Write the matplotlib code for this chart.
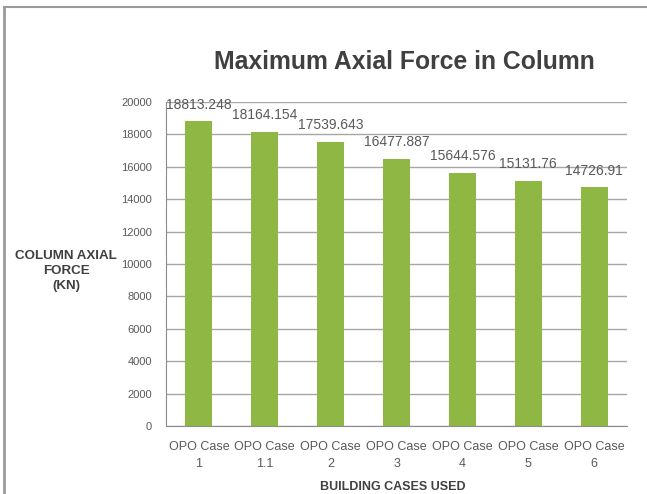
import matplotlib
matplotlib.use("Agg")
import matplotlib.pyplot as plt
from matplotlib.lines import Line2D

# values
cases = ["OPO Case\n1", "OPO Case\n1.1", "OPO Case\n2", "OPO Case\n3",
         "OPO Case\n4", "OPO Case\n5", "OPO Case\n6"]
force = [18813.248, 18164.154, 17539.643, 16477.887, 15644.576, 15131.76, 14726.91]
labels = ["18813.248", "18164.154", "17539.643", "16477.887",
          "15644.576", "15131.76", "14726.91"]
yticks = [0, 2000, 4000, 6000, 8000, 10000, 12000, 14000, 16000, 18000, 20000]

green = "#8FB744"
grid = "#A6A6A6"
txt = "#595959"

plt.rcParams["font.family"] = ["Liberation Sans", "DejaVu Sans"]

W, H = 647, 494
fig = plt.figure(figsize=(W / 100, H / 100), dpi=100)
ax = fig.add_axes([166 / W, 1 - 426 / H, (627 - 166) / W, (426 - 102) / H])

x = range(len(cases))
ax.bar(x, force, width=0.41, color=green, zorder=3)
for i, (v, s) in enumerate(zip(force, labels)):
    ax.annotate(s, (i, v), xytext=(0, 7), textcoords="offset points",
                ha="center", va="bottom", fontsize=10, color=txt)

ax.set_xlim(-0.5, len(cases) - 0.5)
ax.set_ylim(0, 20000)
ax.set_yticks(yticks)
ax.set_yticklabels([str(t) for t in yticks], fontsize=8, color=txt)
ax.set_xticks(list(x))
ax.set_xticklabels(cases, fontsize=9, color=txt, linespacing=1.55)
ax.tick_params(axis="both", length=0)
ax.tick_params(axis="y", pad=10)
ax.tick_params(axis="x", pad=11)
ax.grid(axis="y", color=grid, linewidth=1.0, zorder=0)
ax.set_axisbelow(True)
for s in ("top", "right"):
    ax.spines[s].set_visible(False)
for s in ("left", "bottom"):
    ax.spines[s].set_color("#8C8C8C")

fig.text(404 / W, 1 - 62 / H, "Maximum Axial Force in Column", ha="center",
         va="center", fontsize=17.8, fontweight="bold", color="#404040")
fig.text(66 / W, 1 - 271 / H, "COLUMN AXIAL\nFORCE\n(KN)", ha="center",
         va="center", fontsize=9.6, fontweight="bold", color="#404040",
         linespacing=1.3)
fig.text(393 / W, 1 - 487 / H, "BUILDING CASES USED", ha="center",
         va="center", fontsize=9, fontweight="bold", color="#404040")

# outer chart frame (only its left and top edges are in view)
fig.add_artist(Line2D([4 / W, 4 / W], [0, 1 - 7 / H], color="#9A9A9A", linewidth=2))
fig.add_artist(Line2D([4 / W, 1], [1 - 7 / H, 1 - 7 / H], color="#9A9A9A", linewidth=1.5))

fig.savefig("out.png", dpi=100)
